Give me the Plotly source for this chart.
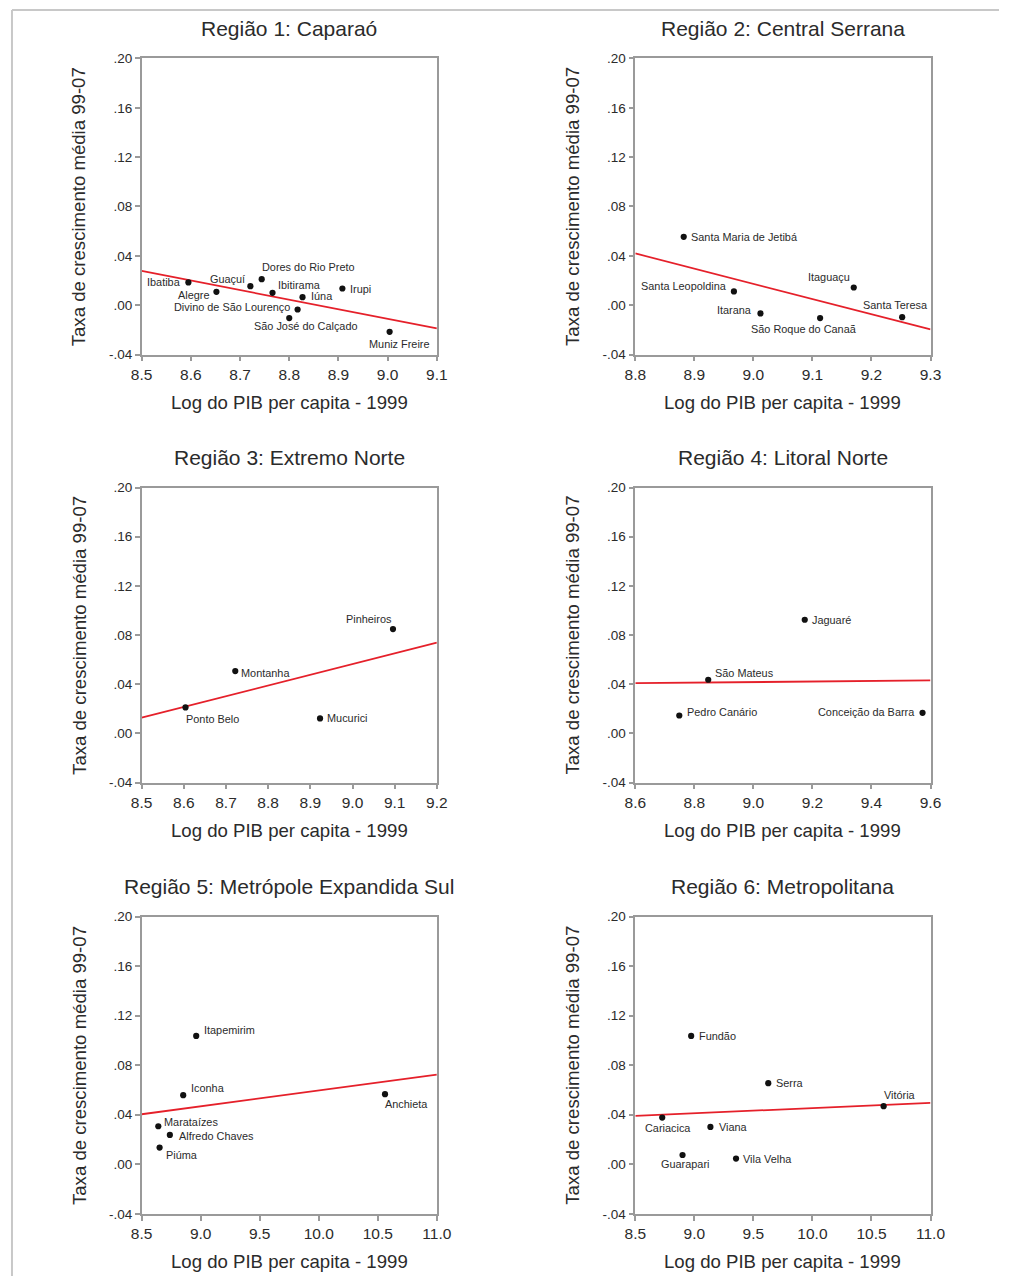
import plotly.graph_objects as go

# ---------------- data ----------------
# Região 1: Caparaó
r1_names = ["Ibatiba", "Alegre", "Guaçuí", "Dores do Rio Preto", "Ibitirama", "Iúna",
            "Irupi", "Divino de São Lourenço", "São José do Calçado", "Muniz Freire"]
r1_x = [8.595, 8.652, 8.721, 8.744, 8.766, 8.827, 8.908, 8.817, 8.800, 9.004]
r1_y = [0.0184, 0.0108, 0.0154, 0.0211, 0.0100, 0.0065, 0.0135, -0.0035, -0.0105, -0.0216]
r1_fit_x = [8.5, 9.1]
r1_fit_y = [0.0278, -0.0189]

# Região 2: Central Serrana
r2_names = ["Santa Maria de Jetibá", "Santa Leopoldina", "Itarana", "São Roque do Canaã",
            "Itaguaçu", "Santa Teresa"]
r2_x = [8.882, 8.967, 9.012, 9.113, 9.170, 9.252]
r2_y = [0.0554, 0.0111, -0.0067, -0.0105, 0.0143, -0.0097]
r2_fit_x = [8.8, 9.3]
r2_fit_y = [0.0419, -0.0197]

# Região 3: Extremo Norte
r3_names = ["Pinheiros", "Montanha", "Ponto Belo", "Mucurici"]
r3_x = [9.096, 8.722, 8.604, 8.923]
r3_y = [0.0849, 0.0507, 0.0212, 0.0122]
r3_fit_x = [8.5, 9.2]
r3_fit_y = [0.0128, 0.0738]

# Região 4: Litoral Norte
r4_names = ["Jaguaré", "São Mateus", "Pedro Canário", "Conceição da Barra"]
r4_x = [9.174, 8.847, 8.749, 9.573]
r4_y = [0.0925, 0.0437, 0.0146, 0.0168]
r4_fit_x = [8.6, 9.6]
r4_fit_y = [0.0409, 0.0431]

# Região 5: Metrópole Expandida Sul
r5_names = ["Itapemirim", "Iconha", "Anchieta", "Marataízes", "Alfredo Chaves", "Piúma"]
r5_x = [8.962, 8.852, 10.561, 8.641, 8.739, 8.652]
r5_y = [0.1037, 0.0558, 0.0566, 0.0307, 0.0237, 0.0135]
r5_fit_x = [8.5, 11.0]
r5_fit_y = [0.0404, 0.0725]

# Região 6: Metropolitana
r6_names = ["Fundão", "Serra", "Vitória", "Cariacica", "Viana", "Guarapari", "Vila Velha"]
r6_x = [8.973, 9.626, 10.603, 8.728, 9.136, 8.900, 9.353]
r6_y = [0.1037, 0.0655, 0.0469, 0.0377, 0.0302, 0.0075, 0.0046]
r6_fit_x = [8.5, 11.0]
r6_fit_y = [0.0391, 0.0496]

titles = ["Região 1: Caparaó", "Região 2: Central Serrana", "Região 3: Extremo Norte",
          "Região 4: Litoral Norte", "Região 5: Metrópole Expandida Sul", "Região 6: Metropolitana"]

y_tick_vals = [-0.04, 0.00, 0.04, 0.08, 0.12, 0.16, 0.20]
y_tick_text = ["-.04", ".00", ".04", ".08", ".12", ".16", ".20"]

x_ticks = [
    ["8.5", "8.6", "8.7", "8.8", "8.9", "9.0", "9.1"],
    ["8.8", "8.9", "9.0", "9.1", "9.2", "9.3"],
    ["8.5", "8.6", "8.7", "8.8", "8.9", "9.0", "9.1", "9.2"],
    ["8.6", "8.8", "9.0", "9.2", "9.4", "9.6"],
    ["8.5", "9.0", "9.5", "10.0", "10.5", "11.0"],
    ["8.5", "9.0", "9.5", "10.0", "10.5", "11.0"],
]

x_label = "Log do PIB per capita - 1999"
y_label = "Taxa de crescimento média 99-07"

# ---------------- label placement (anchor, dx px, dy px downward) ----------------
r1_lbl = [("r", -5, 0), ("r", -5, 3), ("r", -3, -7), ("l", -2, -12), ("l", 3, -8),
          ("l", 6, -1), ("l", 5, 0), ("r", -5, -2), ("c", 16, 8), ("c", 10, 12)]
r2_lbl = [("l", 5, 0), ("r", -5, -5), ("r", -6, -3), ("c", -16, 11), ("r", -2, -10), ("c", -7, -12)]
r3_lbl = [("r", 1, -10), ("l", 4, 2), ("l", -1, 11), ("l", 5, 0)]
r4_lbl = [("l", 5, 0), ("l", 5, -7), ("l", 6, -3), ("r", -5, -1)]
r5_lbl = [("l", 6, -6), ("l", 6, -7), ("l", -2, 10), ("l", 4, -4), ("l", 7, 1), ("l", 4, 7)]
r6_lbl = [("l", 6, 0), ("l", 6, 0), ("l", -2, -11), ("c", 6, 10), ("l", 6, 0), ("c", 2, 9), ("l", 5, 0)]

regions = [
    (r1_names, r1_x, r1_y, r1_fit_x, r1_fit_y, r1_lbl),
    (r2_names, r2_x, r2_y, r2_fit_x, r2_fit_y, r2_lbl),
    (r3_names, r3_x, r3_y, r3_fit_x, r3_fit_y, r3_lbl),
    (r4_names, r4_x, r4_y, r4_fit_x, r4_fit_y, r4_lbl),
    (r5_names, r5_x, r5_y, r5_fit_x, r5_fit_y, r5_lbl),
    (r6_names, r6_x, r6_y, r6_fit_x, r6_fit_y, r6_lbl),
]

# ---------------- layout geometry ----------------
W, H = 1014, 1284
# screen positions -> figure pixels (the page is shown with a small offset
# and slight shrink, so positions are laid out in screen units and mapped back)
SX, OX = 0.977, 10.0
SY, OY = 0.988, 6.6


def to_fx(px):
    return (px - OX) / SX


def to_fy(py):
    return (py - OY) / SY


def paper_x(px):
    return to_fx(px) / W


def paper_y(py):
    return 1 - to_fy(py) / H


col_px = [(141, 437), (636, 932)]
row_px = [(58, 354), (487, 782), (916, 1213)]

FONT = "Liberation Sans, Arial, sans-serif"
AXIS_GRAY = "#9a9a9a"
TEXT = "#2b2b2b"

fig = go.Figure()
annotations = []
layout_axes = {}

for i, (names, xs, ys, fx, fy, lbl) in enumerate(regions):
    n = i + 1
    r, c = divmod(i, 2)
    x0, x1 = col_px[c]
    y0, y1 = row_px[r]
    xa = "x" if n == 1 else f"x{n}"
    ya = "y" if n == 1 else f"y{n}"
    xkey = "xaxis" if n == 1 else f"xaxis{n}"
    ykey = "yaxis" if n == 1 else f"yaxis{n}"

    xvals = [float(t) for t in x_ticks[i]]
    layout_axes[xkey] = dict(
        domain=[paper_x(x0), paper_x(x1)], anchor=ya, range=[fx[0], fx[-1]],
        tickvals=xvals, ticktext=x_ticks[i],
        showgrid=False, zeroline=False, showline=True, mirror=True,
        linecolor=AXIS_GRAY, linewidth=1.5, ticks="outside", ticklen=5,
        tickwidth=1.5, tickcolor=AXIS_GRAY,
        tickfont=dict(family=FONT, size=15.5, color=TEXT),
    )
    layout_axes[ykey] = dict(
        domain=[paper_y(y1), paper_y(y0)], anchor=xa, range=[-0.04, 0.20],
        tickvals=y_tick_vals, ticktext=y_tick_text,
        showgrid=False, zeroline=False, showline=True, mirror=True,
        linecolor=AXIS_GRAY, linewidth=1.5, ticks="outside", ticklen=5,
        tickwidth=1.5, tickcolor=AXIS_GRAY,
        tickfont=dict(family=FONT, size=13.5, color=TEXT),
    )

    # regression line
    fig.add_trace(go.Scatter(x=fx, y=fy, mode="lines", xaxis=xa, yaxis=ya,
                             line=dict(color="#e5202a", width=1.8),
                             hoverinfo="skip", showlegend=False))
    # municipalities
    fig.add_trace(go.Scatter(x=xs, y=ys, mode="markers", xaxis=xa, yaxis=ya,
                             marker=dict(color="#111111", size=6.2),
                             text=names, hoverinfo="text", showlegend=False))

    for name, px, py, (anc, dx, dy) in zip(names, xs, ys, lbl):
        annotations.append(dict(
            x=px, y=py, xref=xa, yref=ya, text=name, showarrow=False,
            xanchor={"l": "left", "r": "right", "c": "center"}[anc], yanchor="middle",
            xshift=dx / SX, yshift=-dy / SY,
            font=dict(family=FONT, size=10.9, color=TEXT),
        ))

    # panel title
    annotations.append(dict(
        x=paper_x((x0 + x1) / 2), y=paper_y(y0 - 30), xref="paper", yref="paper",
        text=titles[i], showarrow=False, xanchor="center", yanchor="middle",
        font=dict(family=FONT, size=21, color=TEXT),
    ))
    # x axis title
    annotations.append(dict(
        x=paper_x((x0 + x1) / 2), y=paper_y(y1 + 48), xref="paper", yref="paper",
        text=x_label, showarrow=False, xanchor="center", yanchor="middle",
        font=dict(family=FONT, size=18.6, color=TEXT),
    ))
    # y axis title
    annotations.append(dict(
        x=paper_x(x0 - 63), y=paper_y((y0 + y1) / 2), xref="paper", yref="paper",
        text=y_label, showarrow=False, textangle=-90, xanchor="center", yanchor="middle",
        font=dict(family=FONT, size=18.6, color=TEXT),
    ))

# page frame (top and left edges)
fx_left = max(to_fx(9), 1) / W
fy_top = 1 - max(to_fy(9.5), 1) / H
shapes = [
    dict(type="line", xref="paper", yref="paper", x0=fx_left, x1=1.0, y0=fy_top, y1=fy_top,
         line=dict(color="#c8c8c8", width=2)),
    dict(type="line", xref="paper", yref="paper", x0=fx_left, x1=fx_left, y0=0, y1=fy_top,
         line=dict(color="#c8c8c8", width=2)),
]

fig.update_layout(
    width=W, height=H,
    margin=dict(l=0, r=0, t=0, b=0),
    paper_bgcolor="white", plot_bgcolor="white",
    annotations=annotations, shapes=shapes,
    showlegend=False,
    **layout_axes,
)

fig.write_html("out.html")
